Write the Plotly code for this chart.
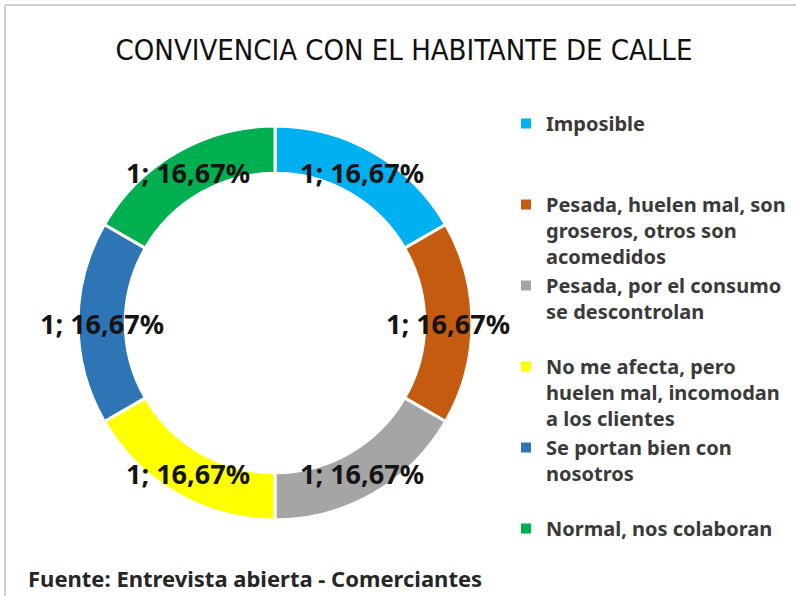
import math
import plotly.graph_objects as go

categorias = [
    "Imposible<br> <br> ",
    "Pesada, huelen mal, son<br>groseros, otros son<br>acomedidos",
    "Pesada, por el consumo<br>se descontrolan<br> ",
    "No me afecta, pero<br>huelen mal, incomodan<br>a los clientes",
    "Se portan bien con<br>nosotros<br> ",
    "Normal, nos colaboran",
]
valores = [1, 1, 1, 1, 1, 1]
colores = ["#00B0F0", "#C55A11", "#A5A5A5", "#FFFF00", "#2E75B6", "#00B050"]

W, H = 796, 596
cx, cy, r_out, hole = 275, 323, 197, 0.76

fig = go.Figure()
fig.add_trace(go.Pie(
    labels=categorias,
    values=valores,
    hole=hole,
    sort=False,
    direction="clockwise",
    rotation=0,
    marker=dict(colors=colores, line=dict(color="white", width=3)),
    textinfo="none",
    domain=dict(x=[(cx - r_out) / W, (cx + r_out) / W],
                y=[(H - cy - r_out) / H, (H - cy + r_out) / H]),
))

# data labels at the middle of the ring
total = sum(valores)
r_mid = r_out * (1 + hole) / 2
acum = 0
for v in valores:
    ang = 2 * math.pi * (acum + v / 2) / total
    acum += v
    pct = f"{100 * v / total:.2f}".replace(".", ",")
    fig.add_annotation(
        x=(cx + r_mid * math.sin(ang)) / W,
        y=(H - cy + r_mid * math.cos(ang)) / H,
        xref="paper", yref="paper",
        xanchor="center", yanchor="middle",
        text=f"{v}; {pct}%",
        showarrow=False,
        font=dict(size=27, color="#141414", family="Noto Sans", weight="bold"),
    )

fig.add_annotation(
    x=26 / W, y=(H - 578) / H, xref="paper", yref="paper",
    xanchor="left", yanchor="middle",
    text="Fuente: Entrevista abierta - Comerciantes",
    showarrow=False,
    font=dict(size=22, color="#262626", family="Noto Sans", weight="bold"),
)

# thin frame like the original screenshot
fig.add_shape(type="line", xref="paper", yref="paper",
              x0=5 / W, x1=1, y0=1 - 5 / H, y1=1 - 5 / H,
              line=dict(color="#D0D0D0", width=2))
fig.add_shape(type="line", xref="paper", yref="paper",
              x0=5 / W, x1=5 / W, y0=0, y1=1 - 5 / H,
              line=dict(color="#D0D0D0", width=2))

fig.update_layout(
    width=W, height=H,
    margin=dict(l=0, r=0, t=0, b=0),
    paper_bgcolor="white",
    title=dict(
        text="CONVIVENCIA CON EL HABITANTE DE CALLE",
        x=404 / W, xanchor="center", y=1 - 50 / H, yanchor="middle",
        font=dict(size=29, color="#111111",
                  family="Liberation Sans Narrow, DejaVu Sans Condensed, sans-serif"),
    ),
    legend=dict(
        x=506 / W, xanchor="left", y=1 - 104 / H, yanchor="top",
        font=dict(size=20, color="#3a3a3a", family="Noto Sans", weight="bold"),
        itemsizing="constant",
        valign="top",
    ),
    showlegend=True,
)

fig.write_html("out.html", config={"displayModeBar": False},
               post_script="document.body.style.margin='0';")
